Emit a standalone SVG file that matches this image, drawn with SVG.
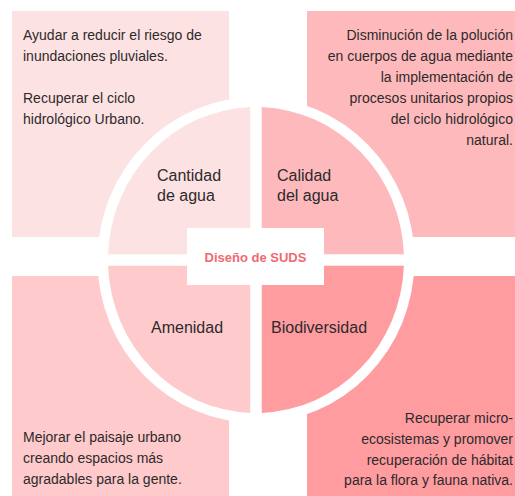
<svg xmlns="http://www.w3.org/2000/svg" width="515" height="496" viewBox="0 0 515 496">
<style>
.t{font-family:"Liberation Sans",Arial,sans-serif;font-size:14px;fill:#2d2a2b}
.l{font-family:"Liberation Sans",Arial,sans-serif;font-size:16px;fill:#2d2a2b}
.r{text-anchor:end}
.c1{fill:#fde2e3}.c2{fill:#feb9bc}.c3{fill:#fecacc}.c4{fill:#fe9ca0}
</style>
<rect width="515" height="496" fill="#ffffff"/>
<g id="rects">
<rect id="rect-tl" class="c1" x="12" y="11" width="217" height="226"/>
<rect id="rect-tr" class="c2" x="307" y="11" width="208" height="226"/>
<rect id="rect-bl" class="c3" x="12" y="276" width="217" height="220"/>
<rect id="rect-br" class="c4" x="307" y="276" width="208" height="220"/>
</g>
<ellipse cx="256" cy="260" rx="158.5" ry="163" fill="#ffffff"/>
<g id="cantidad">
<path class="c1" d="M250.25,254.25 V107.12 A148,153 0 0 0 108.1,254.25 Z"/>
<text class="l" x="157" y="181">Cantidad</text>
<text class="l" x="157" y="201">de agua</text>
</g>
<g id="calidad">
<path class="c2" d="M261.75,254.25 V107.12 A148,153 0 0 1 403.9,254.25 Z"/>
<text class="l" x="277" y="181">Calidad</text>
<text class="l" x="277" y="201">del agua</text>
</g>
<g id="amenidad">
<path class="c3" d="M250.25,265.75 V412.88 A148,153 0 0 1 108.1,265.75 Z"/>
<text class="l" x="151" y="333">Amenidad</text>
</g>
<g id="biodiversidad">
<path class="c4" d="M261.75,265.75 V412.88 A148,153 0 0 0 403.9,265.75 Z"/>
<text class="l" x="271" y="333">Biodiversidad</text>
</g>
<g id="center">
<rect x="187" y="228" width="137" height="57" fill="#ffffff"/>
<text x="255.5" y="261.5" text-anchor="middle" font-family="'Liberation Sans',Arial,sans-serif" font-size="13" font-weight="bold" fill="#f06a72">Diseño de SUDS</text>
</g>
<g id="text-tl">
<text class="t" x="23" y="40">Ayudar a reducir el riesgo de</text>
<text class="t" x="23" y="61">inundaciones pluviales.</text>
<text class="t" x="23" y="103">Recuperar el ciclo</text>
<text class="t" x="23" y="124">hidrológico Urbano.</text>
</g>
<g id="text-tr">
<text class="t r" x="513" y="40">Disminución de la polución</text>
<text class="t r" x="513" y="61">en cuerpos de agua mediante</text>
<text class="t r" x="513" y="82">la implementación de</text>
<text class="t r" x="513" y="103">procesos unitarios propios</text>
<text class="t r" x="513" y="124">del ciclo hidrológico</text>
<text class="t r" x="513" y="145">natural.</text>
</g>
<g id="text-bl">
<text class="t" x="23" y="442">Mejorar el paisaje urbano</text>
<text class="t" x="23" y="463">creando espacios más</text>
<text class="t" x="23" y="484">agradables para la gente.</text>
</g>
<g id="text-br">
<text class="t r" x="513" y="423">Recuperar micro-</text>
<text class="t r" x="513" y="444">ecosistemas y promover</text>
<text class="t r" x="513" y="465">recuperación de hábitat</text>
<text class="t r" x="513" y="485">para la flora y fauna nativa.</text>
</g>
</svg>
